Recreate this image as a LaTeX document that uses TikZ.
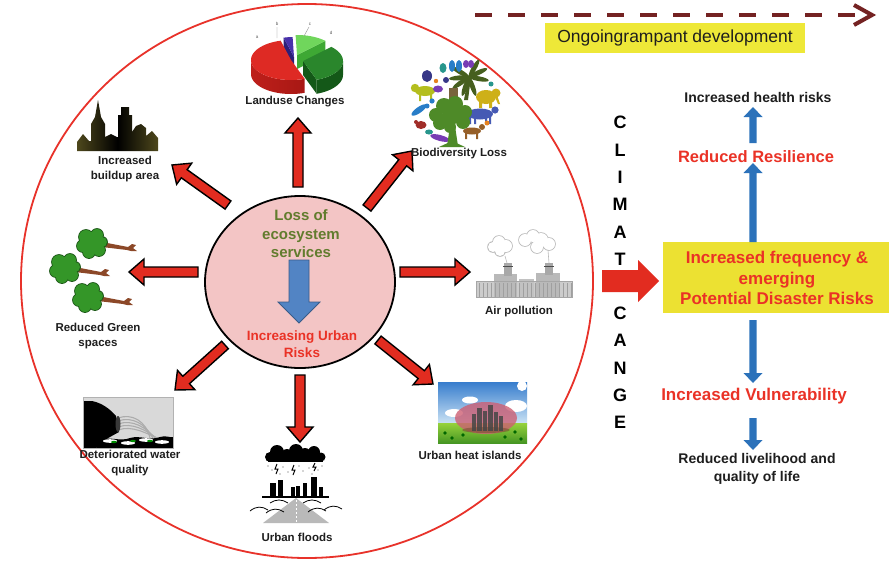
\documentclass[tikz,border=0pt]{standalone}
\usepackage{fontspec}
\setmainfont{Liberation Sans}
\usetikzlibrary{arrows.meta,calc,shapes.geometric}

\definecolor{arrowred}{RGB}{226,44,32}
\definecolor{ringred}{RGB}{232,50,42}
\definecolor{corepink}{RGB}{243,197,197}
\definecolor{olivetext}{RGB}{98,124,46}
\definecolor{risktext}{RGB}{234,50,38}
\definecolor{boxyellow}{RGB}{236,225,50}
\definecolor{tagyellow}{RGB}{238,232,56}
\definecolor{trendbrown}{RGB}{116,34,34}
\definecolor{flowblue}{RGB}{44,114,186}
\definecolor{coreblue}{RGB}{82,132,196}
\definecolor{labelgray}{RGB}{30,30,30}
\definecolor{treegreen}{RGB}{52,150,40}
\definecolor{treedark}{RGB}{30,90,25}
\definecolor{trunkbrown}{RGB}{140,72,40}
\definecolor{skyolive}{RGB}{78,72,28}
\definecolor{pieRed}{RGB}{222,42,36}
\definecolor{pieRedSide}{RGB}{168,24,20}
\definecolor{pieBlue}{RGB}{72,48,170}
\definecolor{pieBlueSide}{RGB}{45,30,120}
\definecolor{pieLime}{RGB}{112,214,92}
\definecolor{pieLimeSide}{RGB}{62,168,52}
\definecolor{pieGreen}{RGB}{42,134,44}
\definecolor{pieGreenSide}{RGB}{20,88,24}
\definecolor{bioTree}{RGB}{78,138,40}
\definecolor{bioPalm}{RGB}{70,95,30}
\definecolor{bioYellow}{RGB}{206,176,24}
\definecolor{bioLime}{RGB}{180,190,30}
\definecolor{bioBlue}{RGB}{70,90,180}
\definecolor{bioBrown}{RGB}{150,95,40}
\definecolor{bioRed}{RGB}{160,45,40}
\definecolor{bioSky}{RGB}{40,125,200}
\definecolor{bioPurple}{RGB}{120,60,180}
\definecolor{bioNavy}{RGB}{55,55,135}
\definecolor{bioTeal}{RGB}{40,150,140}
\definecolor{bioOrange}{RGB}{230,130,30}
\definecolor{bioStump}{RGB}{120,100,60}
\definecolor{skyTop}{RGB}{55,125,205}
\definecolor{skyBottom}{RGB}{205,228,245}
\definecolor{grassTop}{RGB}{150,210,60}
\definecolor{grassBottom}{RGB}{70,150,35}
\definecolor{domePink}{RGB}{205,95,115}
\definecolor{domeSoil}{RGB}{120,80,50}

\tikzset{
  bsw/.store in=\bsw, bhw/.store in=\bhw, bhl/.store in=\bhl,
  bsw=6pt, bhw=14pt, bhl=15pt,
  % block arrow built from the start and end points of a "to" connection
  blockarrow/.style={line join=miter, to path={
    let \p1=(\tikztostart), \p2=(\tikztotarget),
        \n1={atan2((\y2)-(\y1),(\x2)-(\x1))} in
    -- ($(\p1)+(\n1+90:\bsw)$)
    -- ($(\p2)+(\n1+180:\bhl)+(\n1+90:\bsw)$)
    -- ($(\p2)+(\n1+180:\bhl)+(\n1+90:\bhw)$)
    -- (\p2)
    -- ($(\p2)+(\n1+180:\bhl)+(\n1-90:\bhw)$)
    -- ($(\p2)+(\n1+180:\bhl)+(\n1-90:\bsw)$)
    -- ($(\p1)+(\n1-90:\bsw)$) -- cycle}},
  radial/.style={blockarrow, draw=black, line width=1.4pt, fill=arrowred,
    bsw=5pt, bhw=13pt, bhl=15pt},
  flow/.style={blockarrow, fill=flowblue, bsw=3.6pt, bhw=9.5pt, bhl=10pt},
  iconlabel/.style={font=\bfseries\fontsize{11.5}{14.5}\selectfont,
    text=labelgray, align=center, inner sep=0pt},
  sidetext/.style={font=\bfseries\fontsize{14}{18}\selectfont,
    text=labelgray, align=center, inner sep=0pt},
  redtext/.style={font=\bfseries\fontsize{17}{20.5}\selectfont,
    text=risktext, align=center, inner sep=0pt},
  climletter/.style={font=\bfseries\fontsize{18}{18}\selectfont, inner sep=0pt},
}

% a fallen tree: crown centred at (#1,#2), trunk lying to the right
\newcommand\laidtree[2]{%
  \fill[trunkbrown] (#1+10,#2-1) -- (#1+36,#2+4) -- (#1+40,#2+1) -- (#1+44,#2+2)
     -- (#1+41,#2+5) -- (#1+45,#2+8) -- (#1+39,#2+8) -- (#1+35,#2+7)
     -- (#1+10,#2+4) -- cycle;
  \foreach \cx/\cy/\cr in {0/0/11, -6/-6/7, 5/-8/6, -9/3/6, -3/9/6, 7/7/6, 10/-1/5}
    \fill[treedark] ({#1+(\cx)},{#2+(\cy)}) circle[radius=\cr+0.9];
  \foreach \cx/\cy/\cr in {0/0/11, -6/-6/7, 5/-8/6, -9/3/6, -3/9/6, 7/7/6, 10/-1/5}
    \fill[treegreen] ({#1+(\cx)},{#2+(\cy)}) circle[radius=\cr];
}

\begin{document}
\begin{tikzpicture}[x=1pt,y=-1pt]
\useasboundingbox (0,0) rectangle (889,562);
\fill[white] (0,0) rectangle (889,562);

% ---------- outer ring ----------
\node[ellipse, draw=ringred, line width=1.8pt, minimum width=572pt,
      minimum height=554pt, inner sep=0pt] (ring) at (307,281) {};

% ---------- radial arrows ----------
\coordinate (upTail) at (298,187);  \coordinate (upTip) at (298,118);
\coordinate (neTail) at (367,208);  \coordinate (neTip) at (412,151);
\coordinate (eTail)  at (400,272);  \coordinate (eTip)  at (470,272);
\coordinate (seTail) at (378,340);  \coordinate (seTip) at (433,384);
\coordinate (sTail)  at (300,375);  \coordinate (sTip)  at (300,442);
\coordinate (swTail) at (225,345);  \coordinate (swTip) at (175,390);
\coordinate (wTail)  at (198,272);  \coordinate (wTip)  at (129,272);
\coordinate (nwTail) at (228,205);  \coordinate (nwTip) at (172,165);
\foreach \t/\h in {upTail/upTip, neTail/neTip, eTail/eTip, seTail/seTip,
                   sTail/sTip, swTail/swTip, wTail/wTip, nwTail/nwTip}
  \path[radial] (\t) to (\h);

% ---------- core circle ----------
\node[ellipse, draw=black, line width=1.8pt, fill=corepink, minimum width=190pt,
      minimum height=172pt, inner sep=0pt] (core) at (300,282) {};
\node[font=\bfseries\fontsize{15}{18.5}\selectfont, text=olivetext, align=center,
      inner sep=0pt] (coreTop) at (301,234) {Loss of\\ecosystem\\services};
\coordinate (coreArrowTail) at (299,260);
\coordinate (coreArrowTip) at (299,323);
\path[blockarrow, fill=coreblue, draw=coreblue!70!black, line width=0.8pt,
      bsw=10pt, bhw=21pt, bhl=21pt] (coreArrowTail) to (coreArrowTip);
\node[font=\bfseries\fontsize{13.5}{17}\selectfont, text=risktext, align=center,
      inner sep=0pt] (coreBottom) at (302,344) {Increasing Urban\\Risks};

% ---------- land-use pie chart ----------
\fill[pieLimeSide] (297,55) -- ({297+40*cos(315)},{55+20*sin(315)})
   -- ({297+40*cos(315)},{69+20*sin(315)}) -- (297,69) -- cycle;
\fill[pieLime] (297,55) -- plot[domain=268:315,samples=16]
   ({297+40*cos(\x)},{55+20*sin(\x)}) -- cycle;
\fill[pieBlueSide] (294,57) -- ({294+40*cos(255)},{57+20*sin(255)})
   -- ({294+40*cos(255)},{71+20*sin(255)}) -- (294,71) -- cycle;
\fill[pieBlue] (294,57) -- plot[domain=255:268,samples=8]
   ({294+40*cos(\x)},{57+20*sin(\x)}) -- cycle;
\shade[left color=pieRedSide!60!pieRed, right color=pieRedSide]
   plot[domain=70:180,samples=30] ({291+40*cos(\x)},{60+20*sin(\x)})
   -- plot[domain=180:70,samples=30] ({291+40*cos(\x)},{74+20*sin(\x)}) -- cycle;
\fill[pieRed] (291,60) -- plot[domain=70:255,samples=40]
   ({291+40*cos(\x)},{60+20*sin(\x)}) -- cycle;
\fill[pieGreenSide] (303,61) -- ({303+40*cos(70)},{61+20*sin(70)})
   -- ({303+40*cos(70)},{75+20*sin(70)}) -- (303,75) -- cycle;
\fill[pieGreenSide] plot[domain=0:70,samples=20] ({303+40*cos(\x)},{61+20*sin(\x)})
   -- plot[domain=70:0,samples=20] ({303+40*cos(\x)},{75+20*sin(\x)}) -- cycle;
\fill[pieGreen] (303,61) -- plot[domain=315:430,samples=30]
   ({303+40*cos(\x)},{61+20*sin(\x)}) -- cycle;
\draw[gray, line width=0.3pt] (277,27) -- (277,38) (309,27) -- (304,36);
\node[font=\fontsize{4.5}{5}\selectfont, text=gray!70!black, inner sep=0pt] (pieA) at (257,37) {a};
\node[font=\fontsize{4.5}{5}\selectfont, text=gray!70!black, inner sep=0pt] (pieB) at (277,24) {b};
\node[font=\fontsize{4.5}{5}\selectfont, text=gray!70!black, inner sep=0pt] (pieC) at (310,24) {c};
\node[font=\fontsize{4.5}{5}\selectfont, text=gray!70!black, inner sep=0pt] (pieD) at (331,33) {d};
\node[iconlabel] (landuse) at (295,102) {Landuse Changes};

% ---------- biodiversity collage ----------
% palm in the upper right
\fill[bioPalm] (464,100) -- (468,77) -- (471,77) -- (468,100) -- cycle;
\foreach \a in {-10,25,60,150,185,215,250,290}
  \fill[bioPalm, rotate around={\a:(469,77)}] (479,77) ellipse[x radius=10, y radius=2.4];
% elephant
\fill[bioYellow] (486,97) ellipse[x radius=10, y radius=7];
\fill[bioYellow] (496,93) circle[radius=4.5];
\fill[bioYellow] (497,95) -- (500,104) -- (498,104) -- (495,97) -- cycle;
\fill[bioYellow] (479,100) rectangle (482,108) (489,100) rectangle (492,108);
% cow
\fill[bioBlue] (480,114) ellipse[x radius=13, y radius=5.5];
\fill[bioBlue] (495,110) circle[radius=3.6];
\fill[bioBlue] (469,116) rectangle (471,124) (474,116) rectangle (476,124)
               (485,116) rectangle (487,124) (489,116) rectangle (491,124);
% dog
\fill[bioBrown] (472,131) ellipse[x radius=9, y radius=3.5];
\fill[bioBrown] (482,127) circle[radius=3];
\fill[bioBrown] (465,133) rectangle (467,139) (476,133) rectangle (478,139);
% lion
\fill[bioLime] (425,91) ellipse[x radius=10, y radius=5];
\fill[bioLime] (415,88) circle[radius=4.2];
\fill[bioLime] (419,94) rectangle (421,101) (430,94) rectangle (432,101);
% birds and fish on the left
\fill[bioSky, rotate around={35:(419,110)}] (419,110) ellipse[x radius=9, y radius=3];
\fill[bioSky] (427,106) circle[radius=2.5];
\fill[bioRed] (421,125) ellipse[x radius=5.5, y radius=4];
\fill[bioRed] (416,122) circle[radius=2];
\fill[bioPurple, rotate around={-15:(440,138)}] (440,138) ellipse[x radius=10, y radius=3];
\fill[bioTeal] (429,132) ellipse[x radius=4, y radius=2.5];
\fill[bioSky] (432,101) circle[radius=2.6];
% insects and birds along the top
\fill[bioNavy] (427,76) ellipse[x radius=5, y radius=6];
\fill[bioTeal] (443,68) ellipse[x radius=3.5, y radius=5];
\fill[bioSky] (452,66) ellipse[x radius=3, y radius=6];
\fill[bioSky] (459,66) ellipse[x radius=3, y radius=6];
\fill[bioPurple] (466,64) ellipse[x radius=3, y radius=4];
\fill[bioPurple] (471,64) ellipse[x radius=3, y radius=4];
\fill[bioPurple] (438,89) ellipse[x radius=5, y radius=3.5];
\fill[bioNavy] (446,80) circle[radius=3];
\fill[bioOrange] (436,81) circle[radius=2.2];
\fill[bioOrange] (487,123) circle[radius=2.5];
\fill[bioTeal] (491,84) circle[radius=2.5];
\fill[bioStump] (449,88) rectangle (458,99);
% central tree
\fill[bioTree] (447,146) -- (450,126) -- (455,126) -- (458,146) -- cycle;
\fill[bioTree] (439,147) -- (452,141) -- (465,147) -- cycle;
\foreach \cx/\cy/\cr in {436/115/7, 444/106/8, 455/104/8, 465/112/7,
                         440/123/7, 451/116/9, 463/122/7, 450/127/6}
  \fill[bioTree] (\cx,\cy) circle[radius=\cr];
\node[iconlabel] (biodiv) at (459,154) {Biodiversity Loss};

% ---------- skyline ----------
\shade[left color=skyolive, right color=skyolive, middle color=black]
  (77,151) -- (77,142) -- (83,134) -- (89,141) -- (91,141) -- (91,124) -- (95,117)
  -- (98,100) -- (101,117) -- (105,124) -- (105,137) -- (111,134) -- (117,137)
  -- (118,137) -- (118,115) -- (121,115) -- (121,107) -- (129,107) -- (129,115)
  -- (132,115) -- (132,132) -- (136,126) -- (141,124) -- (146,128) -- (146,136)
  -- (152,131) -- (158,138) -- (158,151) -- cycle;
\node[iconlabel] (buildup) at (125,169) {Increased\\buildup area};

% ---------- fallen trees ----------
\laidtree{92}{243}
\laidtree{65}{268}
\laidtree{88}{297}
\node[iconlabel] (green) at (98,336) {Reduced Green\\spaces};

% ---------- polluted outfall ----------
\fill[gray!30] (83,397) rectangle (173,448);
\foreach \dy in {0,3,6,9,12}
  \draw[gray!65, line width=1.1pt] (118,{418+\dy}) .. controls (132,{413+\dy})
     and (146,{421+\dy}) .. ({150+\dy},{438+0.2*\dy});
\fill[black] (83,401) -- (92,401) .. controls (102,403) and (110,409) .. (116,416)
  -- (119,432) .. controls (110,437) and (100,442) .. (96,448) -- (83,448) -- cycle;
\fill[gray!45!black] (118,424) ellipse[x radius=2.5, y radius=8];
\fill[black] (96,448) -- (100,440) .. controls (110,436) and (120,442) .. (130,438)
  .. controls (140,435) and (150,441) .. (160,437) .. controls (166,435) and (170,438)
  .. (173,437) -- (173,448) -- cycle;
\foreach \fx/\fy in {110/441, 128/443, 146/440, 162/442}
  \fill[white] (\fx,\fy) ellipse[x radius=7, y radius=1.8];
\foreach \fx/\fy in {114/442, 133/441, 150/441}
  \fill[green!55!black] (\fx,\fy) ellipse[x radius=3, y radius=1.2];
\draw[gray!60, line width=0.5pt] (83,397) rectangle (173,448);
\node[iconlabel] (water) at (130,463) {Deteriorated water\\quality};

% ---------- urban floods ----------
\foreach \cx/\cy/\cr in {270/457/5, 277/452/7, 287/455/6, 296/451/7, 305/454/6, 314/452/6, 321/457/4.5}
  \fill[black] (\cx,\cy) circle[radius=\cr];
\fill[black] (268,455) rectangle (323,462);
\foreach \rx/\ry in {268/466, 272/470, 283/467, 288/472, 299/466, 303/471, 309/468, 318/470, 322/466, 280/474, 312/474}
  \fill[gray!60!black] (\rx,\ry) circle[radius=0.7];
\draw[black, line width=1pt] (277,464) -- (275,469) -- (278,469) -- (276,474)
  (294,465) -- (292,470) -- (295,470) -- (293,475)
  (315,463) -- (313,467) -- (316,467) -- (314,471);
\foreach \bx/\bw/\bt in {270/6/483, 278/5/480, 291/4/487, 296/4/486, 303/4/483, 311/6/477, 319/4/487}
  \fill[black] (\bx,\bt) rectangle ({\bx+\bw},497);
\draw[black, line width=1.5pt] (262,497) -- (329,497);
\fill[gray!55] (296,498) -- (329,523) -- (263,523) -- cycle;
\draw[white, line width=0.8pt, dash pattern=on 2pt off 2pt] (296,500) -- (296,523);
\draw[black, line width=0.8pt]
  (250,511) .. controls (256,506) and (262,506) .. (268,510)
  (266,513) .. controls (272,508) and (278,508) .. (284,512)
  (270,503) .. controls (276,499) and (282,499) .. (288,503)
  (303,503) .. controls (309,499) and (315,499) .. (321,503)
  (308,512) .. controls (314,507) and (320,507) .. (326,511)
  (324,510) .. controls (330,505) and (336,505) .. (342,509);
\node[iconlabel] (floods) at (297,537) {Urban floods};

% ---------- urban heat island ----------
\shade[top color=skyTop, bottom color=skyBottom] (438,382) rectangle (527,424);
\shade[top color=grassTop, bottom color=grassBottom] (438,423) rectangle (527,443);
\fill[white] (522,386) circle[radius=5];
\fill[white] (454,413) ellipse[x radius=9, y radius=4];
\fill[white] (470,400) ellipse[x radius=8, y radius=3.5];
\fill[white] (516,406) ellipse[x radius=11, y radius=6];
\fill[domePink, opacity=0.8] (486,418) ellipse[x radius=31, y radius=16];
\fill[domeSoil, opacity=0.6] (486,430) ellipse[x radius=24, y radius=3];
\foreach \bx/\bw/\bt in {472/4/414, 477/5/408, 483/4/411, 488/5/405, 494/4/412, 499/4/416}
  \fill[gray!55!black, opacity=0.85] (\bx,\bt) rectangle ({\bx+\bw},431);
\foreach \gx/\gy in {445/433, 452/438, 463/435, 505/437, 515/432, 521/439}
  \fill[green!40!black] (\gx,\gy) circle[radius=1.8];
\node[iconlabel] (heat) at (470,455) {Urban heat islands};

% ---------- air pollution ----------
\foreach \cx/\cy/\cr in {493/247/5, 499/242/6, 506/246/6, 500/251/5,
                          525/240/6, 533/236/6, 541/240/7, 549/244/6, 537/247/6}
  \fill[gray!55] (\cx,\cy) circle[radius=\cr+0.8];
\foreach \cx/\cy/\cr in {493/247/5, 499/242/6, 506/246/6, 500/251/5,
                          525/240/6, 533/236/6, 541/240/7, 549/244/6, 537/247/6}
  \fill[white] (\cx,\cy) circle[radius=\cr];
\draw[gray!55, line width=0.6pt] (505,256) -- (507,263) (548,250) -- (549,263);
\fill[gray!40] (476,281) rectangle (572,297);
\fill[gray!55] (494,274) rectangle (517,297);
\fill[gray!48] (519,279) rectangle (534,297);
\fill[gray!55] (536,273) rectangle (560,297);
\fill[gray!68] (504,263) rectangle (512,276);
\fill[gray!68] (545,263) rectangle (553,275);
\draw[black!70, line width=1pt] (503,266) -- (513,266) (544,266) -- (554,266);
\foreach \xx in {479,483,...,571}
  \draw[gray!75, line width=0.4pt] (\xx,283) -- (\xx,297);
\draw[gray!70, line width=0.6pt] (476,281) rectangle (572,297);
\node[iconlabel] (air) at (519,312) {Air pollution};

% ---------- development trend ----------
\coordinate (trendStart) at (475,15);
\coordinate (trendEnd) at (872,15);
\draw[trendbrown, line width=4.5pt, dash pattern=on 16.5pt off 16.5pt]
  (trendStart) -- ($(trendEnd)+(-4,0)$);
\draw[trendbrown, line width=4pt, line join=miter]
  ($(trendEnd)+(-18,-10)$) -- (trendEnd) -- ($(trendEnd)+(-18,10)$);
\node[fill=tagyellow, minimum width=260pt, minimum height=30pt, inner sep=0pt,
      font=\fontsize{17.5}{20}\selectfont, text=labelgray] (trendTag) at (675,38)
      {Ongoingrampant development};

% ---------- climate change ----------
\foreach \ch/\yy [count=\k] in {C/122,L/150,I/177,M/204,A/232,T/259,C/313,A/340,N/368,G/395,E/422}
  \node[climletter] (clim\k) at (620,\yy) {\ch};
\coordinate (climTail) at (602,281);
\coordinate (climTip) at (659,281);
\path[blockarrow, fill=arrowred, bsw=11pt, bhw=21pt, bhl=21pt] (climTail) to (climTip);

% ---------- consequences ----------
\node[fill=boxyellow, minimum width=226pt, minimum height=71pt, inner sep=0pt] (hub) at (776,277.5) {};
\node[redtext] (hubText) at (777,278)
  {Increased frequency \&\\emerging\\Potential Disaster Risks};
\node[redtext, font=\bfseries\fontsize{16.5}{20}\selectfont] (resilience) at (756,157) {Reduced Resilience};
\node[sidetext] (health) at (758,97) {Increased health risks};
\node[redtext] (vulner) at (754,396) {Increased Vulnerability};
\node[sidetext] (livelihood) at (757,469) {Reduced livelihood and\\quality of life};

\coordinate (f1a) at (753,242); \coordinate (f1b) at (753,163);
\coordinate (f2a) at (753,143); \coordinate (f2b) at (753,107);
\coordinate (f3a) at (753,320); \coordinate (f3b) at (753,383);
\coordinate (f4a) at (753,418); \coordinate (f4b) at (753,450);
\foreach \t/\h in {f1a/f1b, f2a/f2b, f3a/f3b, f4a/f4b}
  \path[flow] (\t) to (\h);
\end{tikzpicture}
\end{document}
